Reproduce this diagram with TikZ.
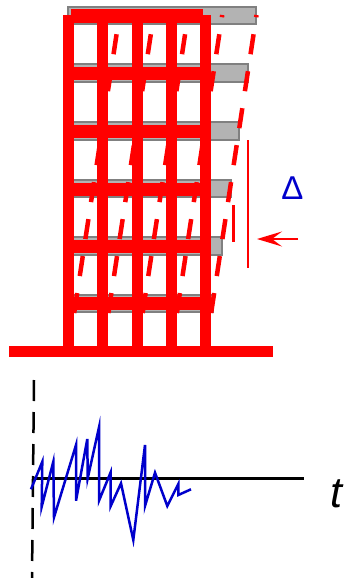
\documentclass[tikz,border=0pt]{standalone}
\usepackage{fontspec}
\setmainfont{Liberation Sans}
\usetikzlibrary{arrows.meta}
\definecolor{framered}{HTML}{FF0000}
\definecolor{slabgrey}{HTML}{B3B3B3}
\definecolor{slabedge}{HTML}{808080}
\definecolor{sigblue}{HTML}{0000CC}
\begin{document}
\begin{tikzpicture}[x=1pt,y=-1pt,
  slab/.style={fill=slabgrey,draw=slabedge,line width=2pt},
  member/.style={fill=framered},
  drift/.style={draw=framered,line width=4.5pt,dash pattern=on 20.2pt off 17.2pt},
  guide/.style={draw=framered,line width=2pt},
  signal/.style={draw=sigblue,line width=2.5pt},
  axis/.style={draw=black,line width=3pt}]
\useasboundingbox (0,0) rectangle (345,578);

% floor slabs seen from the side, set back behind the frame
\foreach \y/\r in {7/256, 64.5/247.5, 122/239, 179.5/230.5, 237/222, 294.5/213}
  \draw[slab] (68,\y) rectangle (\r,{\y+17.5});

% solid (undeformed) frame: columns, floor beams, roof beam and footing
\foreach \x in {68.5,102.75,137,171.25,205.5}
  \fill[member] ({\x-5.5},15) rectangle ({\x+5.5},347);
\foreach \y in {73.5,131,189,246.5,303.5}
  \fill[member] (63,{\y-6.5}) rectangle (211,{\y+6.5});
\fill[member] (71,9) rectangle (203,23);
\fill[member] (9,346) rectangle (273,357);

% deformed columns (dashed), sheared to the right
\foreach \x in {68.5,102.75,137,171.25,205.5}
  \draw[drift] (\x,350) -- ({\x+51},15);

% drift measure and load arrow
\coordinate (driftTop) at (248,140);
\coordinate (driftBot) at (248,268);
\coordinate (tickTop) at (233.5,205);
\coordinate (tickBot) at (233.5,242);
\coordinate (pushstart) at (298,239);
\coordinate (pushend) at (257,239);
\draw[guide] (driftTop) -- (driftBot);
\draw[guide,line width=2.5pt] (tickTop) -- (tickBot);
\draw[guide,-{Stealth[length=25pt,width=15pt,inset=10pt]}] (pushstart) -- (pushend);
\node[text=sigblue,font=\fontsize{33}{33}\selectfont,inner sep=0] (delta) at (292.5,188.5) {Δ};

% ground motion record
\coordinate (axisL) at (32,478);
\coordinate (axisR) at (304,478);
\coordinate (zeroTop) at (34,380);
\coordinate (zeroBot) at (32,578);
\draw[axis] (axisL) -- (axisR);
\draw[draw=black,line width=2.5pt,dash pattern=on 21pt off 11pt] (zeroTop) -- (zeroBot);
\draw[signal] (31,489.3) -- (42.3,461.7) -- (41.7,506.7) -- (53.3,461.7) -- (54,517.3)
  -- (76,445) -- (76,500.7) -- (87.3,439) -- (87.7,478.3) -- (99,427.3) -- (99,500.7)
  -- (110.5,472.7) -- (110.5,506.5) -- (121,483.3) -- (133.3,540) -- (145,445) -- (145,506)
  -- (155,472.7) -- (167.3,506) -- (178.3,484) -- (178.3,495) -- (191,489.3);
\node[anchor=base west,inner sep=0,font=\fontsize{43}{43}\selectfont\itshape] (tlabel) at (330,507) {t};
\end{tikzpicture}
\end{document}
